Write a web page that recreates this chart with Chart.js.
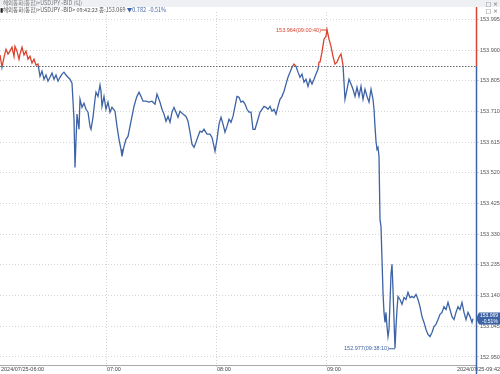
<!DOCTYPE html>
<html>
<head>
<meta charset="utf-8">
<script src="https://cdn.jsdelivr.net/npm/chart.js@4.4.1/dist/chart.umd.min.js"></script>
<style>
  html, body { margin: 0; padding: 0; background: #fff; }
  #wrap { position: relative; width: 500px; height: 374px; overflow: hidden; }
  #head1 { position: absolute; left: 0; top: 0; width: 500px; height: 7px; background: #eef0f3;
           font: 5.5px "Noto Sans CJK KR", sans-serif; color: #777; line-height: 7px; padding-left: 3px; box-sizing: border-box; }
  #head2 { position: absolute; left: 0; top: 7px; width: 500px; height: 6px;
           font: 5.5px "Noto Sans CJK KR", sans-serif; color: #555; line-height: 6px; white-space: nowrap; }
  #head2 .chg { color: #3d63a6; }
  .ico { position: absolute; right: 2px; font: 6px "DejaVu Sans", sans-serif; color: #666; }
  canvas { position: absolute; left: 0; top: 0; }
</style>
</head>
<body>
<div id="wrap">
  <canvas id="chart" width="500" height="374"></canvas>
  <div id="head1">해외통화(통합)&gt;USDJPY~BID (틱)</div>
  <div class="ico" style="top:0px">□ ×</div>
  <div id="head2"><span style="color:#222">▮</span>해외통화(통합)&gt;USDJPY~BID&gt; 09:42:23 종:153.069 <span class="chg">▼0.782 &nbsp;-0.51%</span></div>
  <div class="ico" style="top:7px">□ ×</div>
</div>
<script>
// tick sequence (left to right) and traded price
const seq = [0, 2, 4, 6, 8, 10, 12, 14, 15, 17, 19, 20, 22, 24, 26, 28, 30, 32, 34, 36, 38,
    40, 42, 44, 46, 48, 50, 52, 54, 56, 58, 60, 62, 64, 66, 68, 70, 72, 74, 75, 77, 79,
    80, 82, 84, 86, 88, 90, 91, 93, 95, 96, 98, 100, 101, 102, 104, 106, 108, 110, 112, 115, 117, 119,
    121, 122, 124, 126, 128, 130, 132, 134, 136, 137, 139, 141, 143, 146, 149, 152, 155, 157,
    160, 162, 164, 166, 168, 170, 172, 174, 176, 178, 180, 183, 186, 188, 190, 192, 194, 196, 198,
    200, 202, 204, 207, 210, 212, 214, 215, 217, 219, 221, 223, 225, 227, 229, 231, 233, 235, 237, 239,
    241, 243, 245, 247, 249, 251, 253, 255, 258, 260, 262, 264, 266, 268, 270, 272, 274, 276, 278,
    280, 282, 284, 286, 288, 290, 292, 294, 296, 298, 300, 302, 304, 306, 308, 310, 312, 314, 316, 318,
    319, 320, 322, 324, 326, 327, 329, 331, 333, 335, 337, 339, 341, 342, 343, 345, 347, 349, 351, 353,
    355, 357, 359, 361, 363, 365, 367, 369, 371, 373, 374, 375, 376, 377, 378, 379, 380, 381, 382, 383,
    384, 385, 386, 387, 388, 389, 390, 391, 392, 393, 394, 395, 396, 397, 398, 400, 402, 404, 406, 408,
    410, 412, 414, 416, 418, 420, 422, 424, 426, 428, 430, 432, 434, 436, 438, 440, 442, 444, 446, 448,
    450, 452, 454, 456, 458, 460, 462, 464, 466, 468, 470, 472, 473];
const price = [153.885, 153.847, 153.878, 153.903, 153.888, 153.897, 153.909, 153.881, 153.912, 153.897,
    153.872, 153.888, 153.909, 153.885, 153.897, 153.872, 153.881, 153.860, 153.872, 153.854, 153.857,
    153.819, 153.835, 153.810, 153.823, 153.804, 153.816, 153.829, 153.810, 153.823, 153.804, 153.816,
    153.826, 153.832, 153.823, 153.816, 153.810, 153.798, 153.686, 153.537, 153.702, 153.655,
    153.748, 153.723, 153.736, 153.717, 153.708, 153.664, 153.655, 153.692, 153.748, 153.770, 153.757,
    153.792, 153.773, 153.726, 153.757, 153.717, 153.739, 153.708, 153.723, 153.711, 153.664, 153.624,
    153.593, 153.571, 153.602, 153.624, 153.633, 153.664, 153.695, 153.726, 153.748, 153.757, 153.770,
    153.757, 153.742, 153.742, 153.739, 153.742, 153.733, 153.764,
    153.739, 153.717, 153.702, 153.680, 153.695, 153.677, 153.708, 153.723, 153.708, 153.692, 153.711,
    153.702, 153.695, 153.680, 153.646, 153.609, 153.599, 153.615, 153.633,
    153.649, 153.646, 153.655, 153.640, 153.640, 153.630, 153.602, 153.587, 153.624, 153.671, 153.692,
    153.671, 153.646, 153.664, 153.686, 153.677, 153.695, 153.726, 153.757, 153.754,
    153.739, 153.742, 153.733, 153.717, 153.708, 153.708, 153.655, 153.655, 153.686, 153.708, 153.717,
    153.726, 153.723, 153.717, 153.726, 153.711, 153.717, 153.702, 153.726,
    153.748, 153.757, 153.773, 153.795, 153.816, 153.832, 153.847, 153.857, 153.850, 153.832, 153.816,
    153.826, 153.801, 153.810, 153.788, 153.810, 153.795, 153.810, 153.826, 153.841,
    153.863, 153.863, 153.894, 153.934, 153.943, 153.964, 153.934, 153.912, 153.881, 153.857, 153.863,
    153.878, 153.888, 153.872, 153.854, 153.748, 153.779, 153.810, 153.795, 153.779,
    153.757, 153.785, 153.757, 153.788, 153.748, 153.779, 153.757, 153.739, 153.779, 153.748, 153.717,
    153.664, 153.618, 153.593, 153.599, 153.571, 153.376, 153.354, 153.252, 153.150,
    153.088, 153.057, 153.088, 153.044, 153.013, 153.035, 153.119, 153.206, 153.237, 153.159, 153.066,
    152.977, 153.044, 153.097, 153.137, 153.128, 153.113, 153.134, 153.128, 153.150,
    153.134, 153.137, 153.134, 153.144, 153.128, 153.106, 153.075, 153.057, 153.035, 153.020, 153.013,
    153.026, 153.044, 153.051, 153.066, 153.082, 153.088, 153.106, 153.097, 153.119,
    153.097, 153.075, 153.066, 153.088, 153.106, 153.097, 153.119, 153.088, 153.066, 153.088, 153.075,
    153.057, 153.069];

const yTicks = [152.950, 153.045, 153.140, 153.235, 153.330, 153.425, 153.520, 153.615, 153.710, 153.805, 153.900, 153.995];
const hourTicks = [106, 216, 326];
const hourLabels = ['07:00', '08:00', '09:00'];
const firstLabel = '2024/07/25-06:00';
const lastLabel = '2024/07/25-09:42';
const prevClose = 153.851;
const highTime = '09:00:40';
const lowTime = '09:38:10';
const pctText = '-0.51%';

const RED = '#d9432f';
const BLUE = '#3d63a6';
const small = '5.5px "Liberation Sans Narrow", "Liberation Sans", sans-serif';

const points = seq.map((s, i) => ({x: s, y: price[i]}));

// clip the two copies of the line above / below the previous close
const splitPlugin = {
    id: 'split',
    beforeDatasetDraw(chart, args) {
        const a = chart.chartArea;
        const base = chart.scales.y.getPixelForValue(prevClose);
        const ctx = chart.ctx;
        ctx.save();
        ctx.beginPath();
        if (args.index === 1) ctx.rect(a.left, a.top, a.right - a.left, base - a.top);
        else ctx.rect(a.left, base, a.right - a.left, a.bottom - base);
        ctx.clip();
    },
    afterDatasetDraw(chart) {
        chart.ctx.restore();
    }
};

const extrasPlugin = {
    id: 'extras',
    beforeDatasetsDraw(chart) {
        const ctx = chart.ctx;
        const a = chart.chartArea;
        const base = chart.scales.y.getPixelForValue(prevClose);
        ctx.save();
        ctx.strokeStyle = '#666';
        ctx.lineWidth = 1;
        ctx.setLineDash([1.5, 1.5]);
        ctx.beginPath();
        ctx.moveTo(a.left, Math.round(base) + 0.5);
        ctx.lineTo(a.right, Math.round(base) + 0.5);
        ctx.stroke();
        ctx.restore();
    },
    afterDraw(chart) {
        const ctx = chart.ctx;
        const a = chart.chartArea;
        const xs = chart.scales.x;
        const ys = chart.scales.y;
        const base = ys.getPixelForValue(prevClose);
        ctx.save();

        // x labels
        ctx.font = small;
        ctx.fillStyle = '#444';
        ctx.textBaseline = 'middle';
        ctx.textAlign = 'left';
        ctx.fillText(firstLabel, 1, a.bottom + 4.5);
        hourTicks.forEach((t, i) => {
            ctx.fillText(hourLabels[i], xs.getPixelForValue(t) + 1, a.bottom + 4.5);
        });
        ctx.textAlign = 'right';
        ctx.fillText(lastLabel, 500, a.bottom + 4.5);

        // coloured right axis line
        const ax = Math.round(a.right) + 0.5;
        ctx.lineWidth = 1.5;
        ctx.strokeStyle = RED;
        ctx.beginPath();
        ctx.moveTo(ax, 7);
        ctx.lineTo(ax, base);
        ctx.stroke();
        ctx.strokeStyle = BLUE;
        ctx.beginPath();
        ctx.moveTo(ax, base);
        ctx.lineTo(ax, 374);
        ctx.stroke();

        // last price tag
        const last = price[price.length - 1];
        const ly = ys.getPixelForValue(last);
        ctx.fillStyle = BLUE;
        ctx.beginPath();
        ctx.moveTo(a.right, ly);
        ctx.lineTo(a.right + 3, ly - 6);
        ctx.lineTo(500, ly - 6);
        ctx.lineTo(500, ly + 6);
        ctx.lineTo(a.right + 3, ly + 6);
        ctx.closePath();
        ctx.fill();
        ctx.fillStyle = '#fff';
        ctx.textAlign = 'left';
        ctx.font = '5px "Liberation Sans Narrow", "Liberation Sans", sans-serif';
        ctx.fillText(last.toFixed(3), a.right + 4, ly - 2.5);
        ctx.fillText(pctText, a.right + 6, ly + 2.8);

        // high / low annotations
        let hi = 0, lo = 0;
        price.forEach((p, i) => {
            if (p > price[hi]) hi = i;
            if (p < price[lo]) lo = i;
        });
        ctx.font = small;
        ctx.lineWidth = 1;
        const hx = xs.getPixelForValue(seq[hi]);
        const hy = ys.getPixelForValue(price[hi]);
        ctx.strokeStyle = RED;
        ctx.fillStyle = RED;
        ctx.beginPath();
        ctx.moveTo(hx, hy + 0.5);
        ctx.lineTo(hx - 6, hy + 0.5);
        ctx.stroke();
        ctx.textAlign = 'right';
        ctx.fillText(price[hi].toFixed(3) + '(' + highTime + ')', hx - 6, hy + 0.5);
        const lx = xs.getPixelForValue(seq[lo]);
        const lyy = ys.getPixelForValue(price[lo]);
        ctx.strokeStyle = BLUE;
        ctx.fillStyle = BLUE;
        ctx.beginPath();
        ctx.moveTo(lx, lyy + 0.5);
        ctx.lineTo(lx - 6, lyy + 0.5);
        ctx.stroke();
        ctx.fillText(price[lo].toFixed(3) + '(' + lowTime + ')', lx - 6, lyy + 0.5);
        ctx.restore();
    }
};

new Chart(document.getElementById('chart'), {
    type: 'line',
    data: {
        datasets: [{
            data: points,
            borderColor: BLUE,
            borderWidth: 1.3,
            pointRadius: 0,
            tension: 0
        }, {
            data: points,
            borderColor: RED,
            borderWidth: 1.3,
            pointRadius: 0,
            tension: 0
        }]
    },
    options: {
        responsive: false,
        animation: false,
        layout: { padding: { top: 12, left: 0, right: 0, bottom: 0 } },
        plugins: { legend: { display: false }, tooltip: { enabled: false } },
        scales: {
            x: {
                type: 'linear',
                min: 0,
                max: 476,
                afterBuildTicks: scale => { scale.ticks = hourTicks.map(v => ({value: v})); },
                afterFit: scale => { scale.height = 9; },
                ticks: { display: false },
                grid: { color: '#d4d4d4', drawTicks: true, tickLength: 2 },
                border: { display: true, color: '#aaa', dash: [1, 2] }
            },
            y: {
                position: 'right',
                min: 152.9252,
                max: 154.0182,
                afterBuildTicks: scale => { scale.ticks = yTicks.map(v => ({value: v})); },
                afterFit: scale => { scale.width = 24; },
                ticks: {
                    font: { size: 5.5, family: '"Liberation Sans Narrow", "Liberation Sans", sans-serif' },
                    color: '#555',
                    padding: 1,
                    callback: v => v.toFixed(3)
                },
                grid: { color: '#d4d4d4', tickLength: 3 },
                border: { display: false, dash: [1, 2] }
            }
        }
    },
    plugins: [splitPlugin, extrasPlugin]
});
</script>
</body>
</html>
